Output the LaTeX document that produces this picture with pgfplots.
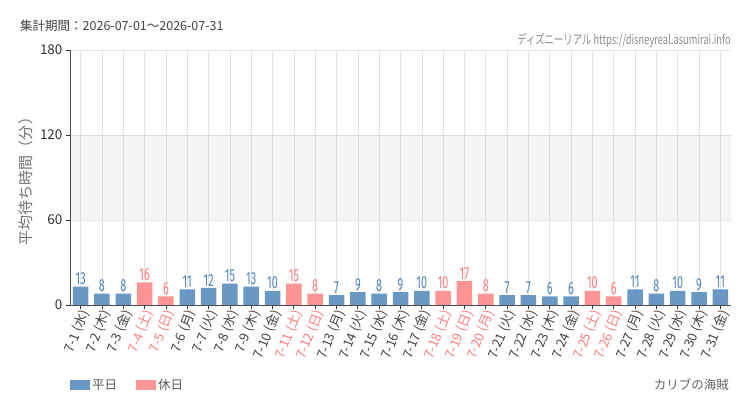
\documentclass[border=0pt]{standalone}
\usepackage{fontspec}
\setmainfont{Noto Sans CJK JP}
\newfontfamily\condfont[FakeStretch=0.62]{Fira Sans}
\newfontfamily\condcjk[FakeStretch=0.72]{Noto Sans CJK JP}
\usepackage{pgfplots}
\pgfplotsset{compat=1.18}
\usepackage{pgfplotstable}

\definecolor{wkbar}{HTML}{6A98C5}
\definecolor{hobar}{HTML}{FF9494}
\definecolor{wklab}{HTML}{4F86BF}
\definecolor{holab}{HTML}{FF7B7B}
\definecolor{gridc}{HTML}{E4E4E4}
\definecolor{txt}{HTML}{444444}

% x = day index (0 = 7-1)
\pgfplotstableread{
x y
0 13
1 8
2 8
5 11
6 12
7 15
8 13
9 10
12 7
13 9
14 8
15 9
16 10
20 7
21 7
22 6
23 6
26 11
27 8
28 10
29 9
30 11
}\weekday

\pgfplotstableread{
x y
3 16
4 6
10 15
11 8
17 10
18 17
19 8
24 10
25 6
}\holiday

\newcommand{\ho}[1]{\textcolor{holab}{#1}}

\begin{document}
\begin{tikzpicture}
\fill[white] (0bp,0bp) rectangle (750bp,410bp);
\path[use as bounding box] (0bp,0bp) rectangle (750bp,410bp);

\node[anchor=west, text=txt, font=\fontsize{12.5bp}{14bp}\selectfont, inner sep=0pt] at (20bp,384bp) {集計期間：2026-07-01～2026-07-31};
\node[anchor=east, text=black!45, font=\condcjk\fontsize{13bp}{15bp}\selectfont, inner sep=0pt] at (731bp,370bp) {ディズニーリアル https://disneyreal.asumirai.info};
\node[anchor=east, text=black!60, font=\fontsize{12.5bp}{14bp}\selectfont, inner sep=0pt] at (729bp,25bp) {カリブの海賊};

\begin{axis}[
  at={(70bp,105bp)}, anchor=south west,
  scale only axis, width=661bp, height=255bp,
  xmin=-0.5, xmax=30.5, ymin=0, ymax=180,
  axis x line=bottom, axis y line=left,
  axis line style={-, black!70, line width=0.9pt},
  ytick={0,60,120,180},
  xtick={0,...,30},
  xticklabels={7-1 (水),7-2 (木),7-3 (金),\ho{7-4 (土)},\ho{7-5 (日)},7-6 (月),7-7 (火),7-8 (水),7-9 (木),7-10 (金),\ho{7-11 (土)},\ho{7-12 (日)},7-13 (月),7-14 (火),7-15 (水),7-16 (木),7-17 (金),\ho{7-18 (土)},\ho{7-19 (日)},\ho{7-20 (月)},7-21 (火),7-22 (水),7-23 (木),7-24 (金),\ho{7-25 (土)},\ho{7-26 (日)},7-27 (月),7-28 (火),7-29 (水),7-30 (木),7-31 (金)},
  tick align=outside,
  major tick length=4bp,
  tick style={black!80, line width=0.8pt},
  xmajorgrids, ymajorgrids,
  major grid style={gridc, line width=0.6pt},
  /pgf/number format/assume math mode=true,
  yticklabel style={font=\fontsize{13.5bp}{15bp}\selectfont, text=black!80},
  xticklabel style={font=\fontsize{13bp}{14bp}\selectfont, text=txt, rotate=68, anchor=east, inner sep=1bp, yshift=-5bp, xshift=1bp},
  ylabel={平均待ち時間（分）},
  ylabel style={font=\fontsize{15bp}{17bp}\selectfont, text=black!55},
  ybar, bar width=15.5bp, bar shift=0pt,
  nodes near coords,
  every node near coord/.append style={font=\condfont\fontsize{17.5bp}{19bp}\selectfont, inner sep=1.5bp},
  legend columns=2,
  legend style={at={(0,-0.314)}, anchor=west, draw=none, fill=none, inner sep=0pt,
    font=\fontsize{12.5bp}{14bp}\selectfont, text=black!65,
    /tikz/every even column/.append style={column sep=17bp}},
  legend image code/.code={\fill[#1] (0bp,-5bp) rectangle (20bp,5bp);},
]
\fill[black, opacity=0.04] (axis cs:-0.5,60) rectangle (axis cs:30.5,120);
\addplot[fill=wkbar, draw=none, every node near coord/.append style={text=wklab}] table[x=x,y=y] {\weekday};
\addplot[fill=hobar, draw=none, every node near coord/.append style={text=holab}] table[x=x,y=y] {\holiday};
\legend{平日,休日}
\end{axis}
\end{tikzpicture}
\end{document}
